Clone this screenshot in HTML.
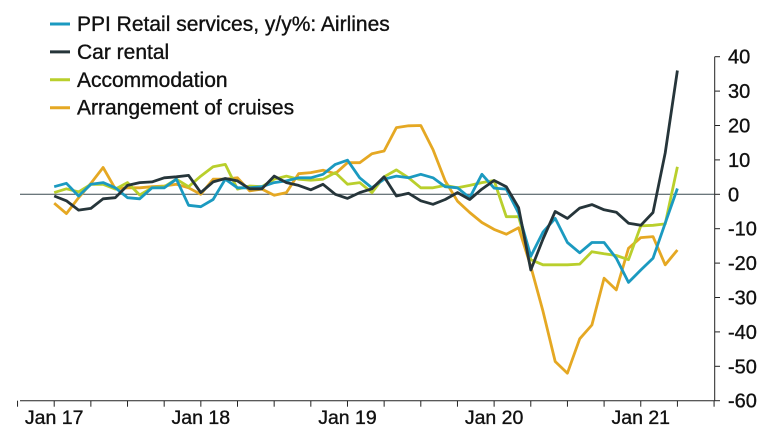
<!DOCTYPE html>
<html><head><meta charset="utf-8"><style>
html,body{margin:0;padding:0;background:#fff;}
svg{display:block;font-family:"Liberation Sans",sans-serif;}
text{stroke:#111;stroke-width:0.35;}
</style></head><body>
<svg id="chart" width="772" height="443" viewBox="0 0 772 443" xmlns="http://www.w3.org/2000/svg">
<g id="legend"></g>
<g id="axes"></g>
<g id="series"></g>
</svg>
<script>
const seriesNames = ["PPI Retail services, y/y%: Airlines","Car rental","Accommodation","Arrangement of cruises"];
const seriesColors = ["#1b9ac0","#26353a","#b9cf2c","#e5a823"];
const airlines = [2.2,3.2,-0.5,2.9,3.4,1.9,-1,-1.3,1.9,1.9,4.4,-3.2,-3.6,-1.5,4.4,1.9,1.9,2.2,3.4,3.9,4.8,4.8,5.8,8.7,9.9,4.8,1.9,4.4,5.3,4.8,5.8,4.8,2.2,1.9,-1,5.8,1.8,1.5,-5.5,-18,-11,-7,-14,-17,-14,-14,-18.6,-25.6,-22,-18.6,-8.4,1.7];
const carRental = [-0.5,-1.9,-4.6,-4.1,-1.3,-1,2.6,3.4,3.6,4.8,5.1,5.5,0.5,3.6,4.6,3.9,1.6,1.6,5.3,3.4,2.6,1.3,2.9,0,-1.2,0.5,1.6,5.1,-0.5,0.3,-1.9,-2.9,-1.5,0.5,-1.5,1.5,4,2.2,-3.9,-22,-13,-5,-7,-4,-3,-4.5,-5.2,-8.4,-9,-5.3,12,36];
const accommodation = [0.5,1.6,0.7,2.9,2.9,1.5,3.4,-0.2,1.9,2.2,4.4,2.2,5.3,8,8.7,1.5,2.4,2.2,4.4,5.3,4.4,4.1,4.4,6.3,2.9,3.4,0.5,5.1,7.1,4.8,1.9,1.9,2.6,1.9,2.6,3.4,4,-6.5,-6.5,-19,-20.5,-20.5,-20.5,-20.3,-16.7,-17.3,-17.8,-19,-9.2,-9,-8.6,8];
const cruises = [-2.6,-5.6,-1,3.2,7.8,1.6,1.9,1.9,2.2,2.4,2.9,1.9,0,4.4,4.4,4.8,1,1.5,-0.3,0.5,6,6.3,7,6,9.2,9.2,11.8,12.6,19.4,19.9,20,13,3.9,-2,-5.3,-8.2,-10.2,-11.6,-9.7,-21,-34,-48.6,-52,-42,-38,-24.4,-27.8,-15.7,-12.6,-12.3,-20.5,-16.2];
const yTicks = [40,30,20,10,0,-10,-20,-30,-40,-50,-60];
const xLabels = ["Jan 17","Jan 18","Jan 19","Jan 20","Jan 21"];
const xLabelMonths = [0,12,24,36,48];

const NS="http://www.w3.org/2000/svg";
const x0=54.2, mw=12.22, yZero=194.3, yScale=3.44;
const X = m => x0 + m*mw;
const Y = v => yZero - v*yScale;
function mk(tag, attrs, parent){const e=document.createElementNS(NS,tag);for(const k in attrs)e.setAttribute(k,attrs[k]);parent.appendChild(e);return e;}
const axes=document.getElementById('axes'), ser=document.getElementById('series'), leg=document.getElementById('legend');

seriesNames.forEach((n,i)=>{
  const yy=24+i*27.9;
  const ln=mk('line',{x1:50,x2:70,y1:yy,y2:yy,stroke:seriesColors[i],'stroke-width':3},leg);
  
  
  const t=mk('text',{x:77,y:yy+7,'font-size':21,fill:'#111'},leg);
  t.textContent=n;
  
  
});

const xa=mk('line',{x1:20,x2:714.7,y1:Y(-60),y2:Y(-60),stroke:'#222','stroke-width':1},axes);


const ya=mk('line',{x1:714.7,x2:714.7,y1:Y(40),y2:Y(-60),stroke:'#222','stroke-width':1},axes);


const zl=mk('line',{x1:20,x2:714.7,y1:Y(0),y2:Y(0),stroke:'#3a4a50','stroke-width':1},axes);


yTicks.forEach(v=>{
  const tk=mk('line',{x1:714.7,x2:720,y1:Y(v),y2:Y(v),stroke:'#222','stroke-width':1},axes);
  
  
  const t=mk('text',{x:728,y:Y(v)+7,'font-size':20,fill:'#111'},axes);
  t.textContent=String(v);
  
  
});
for(let m=-3;m<=54;m+=3){
  const tk=mk('line',{x1:X(m),x2:X(m),y1:Y(-60),y2:Y(-60)+6,stroke:'#222','stroke-width':1},axes);
  
  
}
xLabels.forEach((l,i)=>{
  const t=mk('text',{x:X(xLabelMonths[i]),y:424,'font-size':19.5,fill:'#111','text-anchor':'middle'},axes);
  t.textContent=l;
  
  
});

const data=[airlines,carRental,accommodation,cruises];
const names=['airlines-line','car-rental-line','accommodation-line','cruises-line'];
[3,2,0,1].forEach(i=>{
  const d=data[i].map((v,m)=>(m?'L':'M')+X(m).toFixed(1)+' '+Y(v).toFixed(1)).join(' ');
  const p=mk('path',{d:d,fill:'none',stroke:seriesColors[i],'stroke-width':2.8,'stroke-linejoin':'round'},ser);
  
  
});
</script>
</body></html>
